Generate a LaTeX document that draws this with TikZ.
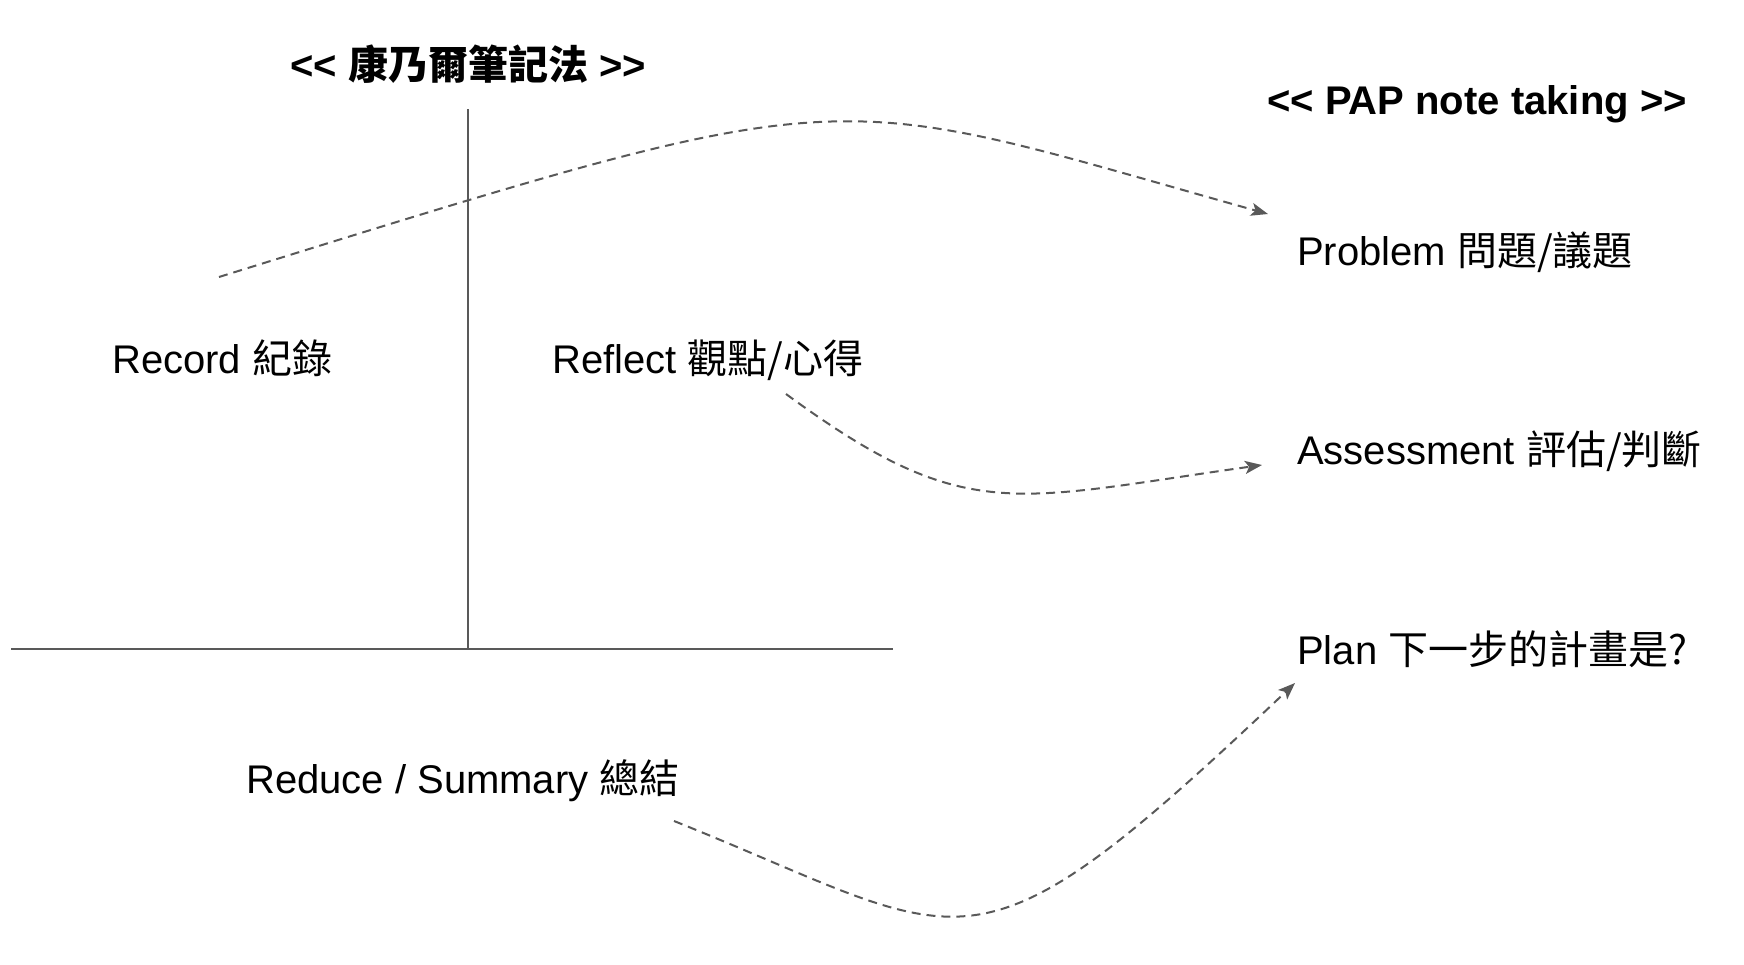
\documentclass[tikz,border=0pt]{standalone}
\usepackage{fontspec}
\setmainfont{Liberation Sans}[Ligatures=TeXOff]
\newfontfamily\cjk{Noto Sans CJK TC}
\usetikzlibrary{arrows.meta}
\definecolor{linegray}{HTML}{595959}
\tikzset{>={Stealth[length=17pt,width=13pt,inset=4pt]}}
\tikzset{label text/.style={inner sep=0pt, font=\fontsize{40}{48}\selectfont}}
\tikzset{title text/.style={inner sep=0pt, font=\fontsize{40}{48}\selectfont\bfseries}}
\tikzset{flow/.style={->, linegray, line width=2pt, dash pattern=on 9pt off 6pt}}

\begin{document}
\begin{tikzpicture}[x=1pt, y=-1pt]
    \useasboundingbox (0,0) rectangle (1744,964);
    % cornell page
    \coordinate (T) at (468,109);
    \coordinate (C) at (468,649);
    \coordinate (L) at (11,649);
    \coordinate (R) at (893,649);
    \draw[linegray, line width=2pt] (T) -- (C);
    \draw[linegray, line width=2pt] (L) -- (R);
    \node (cornell) at (468,79) [title text, anchor=base] {<< {\cjk 康乃爾筆記法} >>};
    \node (pap) at (1477,114) [title text, anchor=base] {<< PAP note taking >>};
    \node (record) at (112,373) [label text, anchor=base west] {Record {\cjk 紀錄}};
    \node (reflect) at (552,373) [label text, anchor=base west] {Reflect {\cjk 觀點/心得}};
    \node (reduce) at (246,793) [label text, anchor=base west] {Reduce / Summary {\cjk 總結}};
    \node (problem) at (1297,265) [label text, anchor=base west] {Problem {\cjk 問題/議題}};
    \node (assess) at (1297,464) [label text, anchor=base west] {Assessment {\cjk 評估/判斷}};
    \node (plan) at (1297,664) [label text, anchor=base west] {Plan {\cjk 下一步的計畫是?}};
    % arrow ends
    \coordinate (recA) at (219,277);
    \coordinate (probA) at (1268,214);
    \coordinate (refA) at (786,394);
    \coordinate (assA) at (1262,465);
    \coordinate (redA) at (674,821);
    \coordinate (planA) at (1295,683);
    \draw[flow] (recA) .. controls (869,75) and (818,88) .. (probA);
    \draw[flow] (refA) .. controls (966,526) and (1012,500) .. (assA);
    \draw[flow] (redA) .. controls (974,941) and (965,996) .. (planA);
\end{tikzpicture}
\end{document}
